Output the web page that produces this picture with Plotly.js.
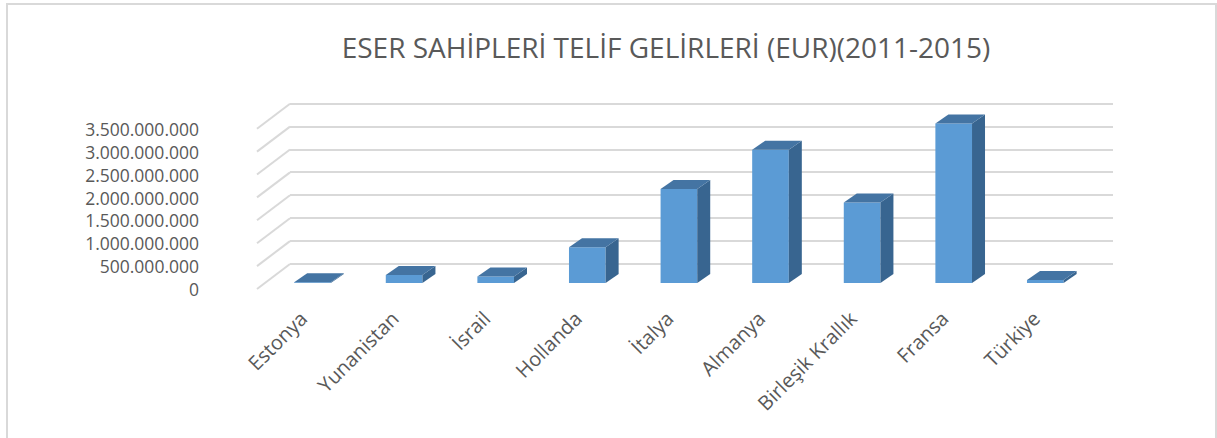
<!DOCTYPE html>
<html>
<head>
<meta charset="utf-8">
<script src="https://cdn.plot.ly/plotly-3.0.1.min.js"></script>
<style>html,body{margin:0;padding:0;background:#fff;}#chart{width:1217px;height:438px;}</style>
</head>
<body>
<div id="chart"></div>
<script>
// ---- data ----
const categories = ['Estonya', 'Yunanistan', 'İsrail', 'Hollanda', 'İtalya', 'Almanya', 'Birleşik Krallık', 'Fransa', 'Türkiye'];
const revenues = [15000000, 175000000, 140000000, 780000000, 2050000000, 2910000000, 1760000000, 3480000000, 65000000];
const yTicks = [0, 500000000, 1000000000, 1500000000, 2000000000, 2500000000, 3000000000, 3500000000];
const chartTitle = 'ESER SAHİPLERİ TELİF GELİRLERİ (EUR)(2011-2015)';

// ---- layout geometry (pixels) ----
const W = 1217, H = 438;
const PLOT_TOP = 95, PLOT_BOT = 300;
const PPU = 22.9 / 500000000;          // pixels per EUR
const ZERO_BACK = 264, ZERO_BAR = 283, ZERO_FRONT = 290;
const WALL_L = 290, WALL_R = 1113;
const CAT0 = 312.5, CATSTEP = 91.6;
const BAR_W = 0.40;
const DX = 13, DY = 9;                  // bar depth in px
const FLOOR_DX = 33, FLOOR_DY = 25;     // floor depth in px

const yDom = [1 - PLOT_BOT / H, 1 - PLOT_TOP / H];
const yRange = z => [(z - PLOT_BOT) / PPU, (z - PLOT_TOP) / PPU];
const idx = categories.map((c, i) => i);

const GRID = '#d9d9d9';
const FRONT = '#5b9bd5', TOP = '#4474a3', SIDE = '#386590';
const TXT = '#595959';
const FONT = 'Open Sans, Noto Sans, sans-serif';

const traces = [
  {type: 'scatter', x: [0, 1], y: [0, 0], xaxis: 'x', yaxis: 'y', mode: 'markers',
   marker: {opacity: 0}, hoverinfo: 'skip', showlegend: false},
  {type: 'bar', x: idx, y: revenues, xaxis: 'x2', yaxis: 'y2', width: BAR_W,
   marker: {color: FRONT, line: {width: 0}}, showlegend: false, hoverinfo: 'y'},
  {type: 'scatter', x: idx, y: revenues, xaxis: 'x2', yaxis: 'y3', mode: 'markers',
   marker: {opacity: 0}, hoverinfo: 'skip', showlegend: false}
];

const h = BAR_W / 2 * CATSTEP;
const dyD = DY / PPU;
const wallX2 = (WALL_L - CAT0) / CATSTEP;          // wall left edge in bar-axis units
const backShift = (ZERO_BAR - ZERO_BACK) / PPU;    // back plane offset in bar-axis units
const shapes = [];
// border
shapes.push({type: 'rect', xref: 'paper', yref: 'paper', x0: 7 / W, x1: 1216 / W, y0: -0.05, y1: 1 - 4 / H,
  line: {color: GRID, width: 2}, fillcolor: 'rgba(0,0,0,0)', layer: 'below'});
// side-wall diagonals for each gridline
yTicks.forEach(t => {
  shapes.push({type: 'line', xref: 'x2', yref: 'y2', xsizemode: 'pixel', xanchor: wallX2,
    x0: -FLOOR_DX, x1: 0, y0: t + backShift - FLOOR_DY / PPU, y1: t + backShift,
    line: {color: GRID, width: 2}, layer: 'below'});
});
// bar side and top faces
revenues.forEach((v, i) => {
  shapes.push({type: 'path', xref: 'x2', yref: 'y2', xsizemode: 'pixel', xanchor: i,
    path: `M${h},0 L${h + DX},${dyD} L${h + DX},${v + dyD} L${h},${v} Z`,
    fillcolor: SIDE, line: {width: 0}, layer: 'above'});
  shapes.push({type: 'path', xref: 'x2', yref: 'y2', xsizemode: 'pixel', xanchor: i,
    path: `M${-h},${v} L${h},${v} L${h + DX},${v + dyD} L${-h + DX},${v + dyD} Z`,
    fillcolor: TOP, line: {width: 0}, layer: 'above'});
});

const layout = {
  width: W, height: H,
  margin: {l: 0, r: 0, t: 0, b: 0},
  paper_bgcolor: '#ffffff', plot_bgcolor: 'rgba(0,0,0,0)',
  separators: ',.',
  showlegend: false,
  font: {family: FONT, color: TXT},
  title: {text: chartTitle, x: 666 / W, xanchor: 'center', y: 1 - 48 / H, yanchor: 'middle',
          font: {family: FONT, size: 28, color: TXT}},
  xaxis: {domain: [WALL_L / W, WALL_R / W], range: [0, 1], visible: false, fixedrange: true},
  yaxis: {domain: yDom, range: yRange(ZERO_BACK), tickvals: yTicks, showticklabels: false,
          showgrid: true, gridcolor: GRID, gridwidth: 2, zeroline: false, showline: false, ticks: '',
          fixedrange: true},
  xaxis2: {domain: [0, 1], anchor: 'y2', range: [(0 - CAT0) / CATSTEP, (W - CAT0) / CATSTEP],
           tickvals: idx, ticktext: categories, tickangle: -45, ticklabelshift: -11, ticklabelstandoff: 2,
           showgrid: false, zeroline: false,
           showline: false, ticks: '', tickfont: {family: FONT, size: 20, color: TXT}, fixedrange: true},
  yaxis2: {domain: yDom, anchor: 'x2', range: yRange(ZERO_BAR), visible: false, fixedrange: true},
  yaxis3: {overlaying: 'y2', anchor: 'free', position: 199 / W, side: 'left',
           range: yRange(ZERO_FRONT), tickvals: yTicks, tickformat: ',.0f',
           showgrid: false, zeroline: false, showline: false, ticks: '',
           tickfont: {family: FONT, size: 17.5, color: TXT}, fixedrange: true},
  shapes: shapes
};

Plotly.newPlot('chart', traces, layout, {displayModeBar: false, staticPlot: true});
</script>
</body>
</html>
